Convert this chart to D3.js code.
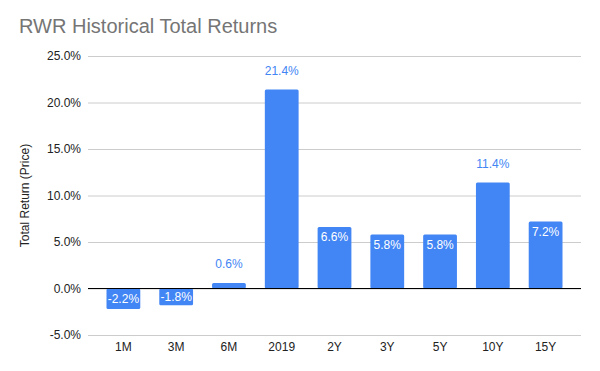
<!DOCTYPE html>
<html>
<head>
<meta charset="utf-8">
<script src="https://cdn.jsdelivr.net/npm/d3@7"></script>
<style>
  body { margin: 0; background: #fff; }
  svg { font-family: "Liberation Sans", Arial, sans-serif; }
</style>
</head>
<body>
<svg id="chart" width="600" height="371"></svg>
<script>
const categories = ['1M', '3M', '6M', '2019', '2Y', '3Y', '5Y', '10Y', '15Y'];
const returns = [-2.2, -1.8, 0.6, 21.4, 6.6, 5.8, 5.8, 11.4, 7.2];
const yTicks = [-5, 0, 5, 10, 15, 20, 25];

const svg = d3.select('#chart');
const width = 600, height = 371;
const blue = '#4285f4';

// Scales
const x = d3.scaleBand().domain(categories).range([97, 572]).paddingInner(0.36).paddingOuter(0.18);
const y = d3.scaleLinear().domain([-5, 25]).range([335, 56]);

// Title
svg.append('text')
  .attr('x', 19)
  .attr('y', 33)
  .attr('font-size', '20px')
  .attr('fill', '#757575')
  .text('RWR Historical Total Returns');

// Grid lines
const grid = svg.append('g')
  .attr('transform', 'translate(88,0)')
  .call(d3.axisLeft(y).tickValues(yTicks).tickSize(-493).tickFormat(''));
grid.select('.domain').remove();
grid.selectAll('line').attr('stroke', '#cccccc');

// Y tick labels
svg.append('g').selectAll('text')
  .data(yTicks)
  .enter()
  .append('text')
  .attr('x', 81)
  .attr('y', d => y(d))
  .attr('dy', '0.35em')
  .attr('text-anchor', 'end')
  .attr('font-size', '12px')
  .attr('fill', '#222')
  .text(d => d.toFixed(1) + '%');

// Y axis title
svg.append('text')
  .attr('transform', `translate(29,${y(10)}) rotate(-90)`)
  .attr('text-anchor', 'middle')
  .attr('font-size', '12px')
  .attr('fill', '#222')
  .text('Total Return (Price)');

// Bars
svg.append('g').selectAll('rect')
  .data(returns)
  .enter()
  .append('rect')
  .attr('x', (d, i) => x(categories[i]))
  .attr('y', d => y(Math.max(0, d)))
  .attr('width', x.bandwidth())
  .attr('height', d => Math.abs(y(d) - y(0)))
  .attr('rx', 1.5)
  .attr('fill', blue);

// Zero line
svg.append('line')
  .attr('x1', 88).attr('x2', 581)
  .attr('y1', y(0)).attr('y2', y(0))
  .attr('stroke', '#000')
  .attr('stroke-width', 1);

// X labels
svg.append('g').selectAll('text')
  .data(categories)
  .enter()
  .append('text')
  .attr('x', d => x(d) + x.bandwidth() / 2)
  .attr('y', 351)
  .attr('text-anchor', 'middle')
  .attr('font-size', '12px')
  .attr('fill', '#222')
  .text(d => d);

// Value labels: small and tallest bars get labels above
const outside = d => (d > 0 && d < 1) || d > 10;
svg.append('g').selectAll('text')
  .data(returns)
  .enter()
  .append('text')
  .attr('x', (d, i) => x(categories[i]) + x.bandwidth() / 2)
  .attr('y', d => {
    if (d < 0) return y(d) / 2 + y(0) / 2;
    return outside(d) ? y(d) - 19 : y(d) + 10;
  })
  .attr('dy', '0.35em')
  .attr('text-anchor', 'middle')
  .attr('font-size', '12px')
  .attr('fill', d => (d > 0 && outside(d)) ? blue : '#fff')
  .text(d => d.toFixed(1) + '%');
</script>
</body>
</html>
